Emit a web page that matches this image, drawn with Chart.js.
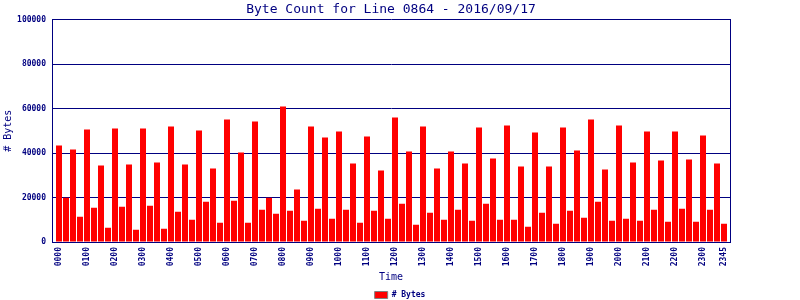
<!DOCTYPE html>
<html>
<head>
<meta charset="utf-8">
<script src="https://cdn.jsdelivr.net/npm/chart.js@4/dist/chart.umd.min.js"></script>
<style>
  html, body { margin: 0; padding: 0; background: #ffffff; }
  #wrap { width: 800px; height: 300px; }
</style>
</head>
<body>
<div id="wrap"><canvas id="c" width="800" height="300"></canvas></div>
<script>
// ---- data ----
const chartTitle = "Byte Count for Line 0864 - 2016/09/17";
const seriesName = "# Bytes";
const xTitle = "Time";
const yTitle = "# Bytes";

const times = [
  "0000","0015","0030","0045","0100","0115","0130","0145",
  "0200","0215","0230","0245","0300","0315","0330","0345",
  "0400","0415","0430","0445","0500","0515","0530","0545",
  "0600","0615","0630","0645","0700","0715","0730","0745",
  "0800","0815","0830","0845","0900","0915","0930","0945",
  "1000","1015","1030","1045","1100","1115","1130","1145",
  "1200","1215","1230","1245","1300","1315","1330","1345",
  "1400","1415","1430","1445","1500","1515","1530","1545",
  "1600","1615","1630","1645","1700","1715","1730","1745",
  "1800","1815","1830","1845","1900","1915","1930","1945",
  "2000","2015","2030","2045","2100","2115","2130","2145",
  "2200","2215","2230","2245","2300","2315","2330","2345"
];

const bytes = [
  43350,19950,41550,11400, 50550,15450,34350,6450,
  51000,15900,34800,5550, 51000,16350,35700,6000,
  51900,13650,34800,10050, 50100,18150,33000,8700,
  55050,18600,40200,8700, 54150,14550,19950,12750,
  60900,14100,23550,9600, 51900,15000,46950,10500,
  49650,14550,35250,8700, 47400,14100,32100,10500,
  55950,17250,40650,7800, 51900,13200,33000,10050,
  40650,14550,35250,9600, 51450,17250,37500,10050,
  52350,10050,33900,6900, 49200,13200,33900,8250,
  51450,14100,41100,10950, 55050,18150,32550,9600,
  52350,10500,35700,9600, 49650,14550,36600,9150,
  49650,15000,37050,9150, 47850,14550,35250,8250
];

// labelled ticks: every hour, plus the last slot
const tickLabels = ["0000","0100","0200","0300","0400","0500","0600","0700",
  "0800","0900","1000","1100","1200","1300","1400","1500","1600","1700",
  "1800","1900","2000","2100","2200","2300","2345"];

const yTicks = [0, 20000, 40000, 60000, 80000, 100000];

// ---- chart ----
const NAVY = "#000080";
const MONO = "'DejaVu Sans Mono', 'Liberation Mono', monospace";

const points = bytes.map((v, i) => ({ x: i, y: v }));
const tickIdx = tickLabels.map(t => times.indexOf(t));

new Chart(document.getElementById("c"), {
  type: "bar",
  data: {
    datasets: [{
      label: seriesName,
      data: points,
      backgroundColor: "#ff0000",
      borderWidth: 0,
      inflateAmount: 0,
      barThickness: 6
    }]
  },
  options: {
    responsive: false,
    animation: false,
    events: [],
    layout: { padding: { left: 0, right: 0, top: 0, bottom: -9 } },
    plugins: {
      title: {
        display: true,
        text: chartTitle,
        color: NAVY,
        fullSize: false,
        font: { family: MONO, size: 13, weight: "normal", lineHeight: 1.2 },
        padding: { top: 2, bottom: 2 }
      },
      legend: {
        display: true,
        position: "bottom",
        labels: {
          color: NAVY,
          font: { family: MONO, size: 8, weight: "bold" },
          boxWidth: 13,
          boxHeight: 7,
          padding: 4,
          generateLabels: (chart) => [{
            text: seriesName,
            fillStyle: "#ff0000",
            strokeStyle: "#808080",
            lineWidth: 1,
            fontColor: NAVY,
            hidden: false,
            datasetIndex: 0
          }]
        }
      },
      tooltip: { enabled: false }
    },
    scales: {
      x: {
        type: "linear",
        offset: false,
        min: -1,
        max: 95.857,
        afterBuildTicks: (s) => { s.ticks = tickIdx.map(v => ({ value: v })); },
        afterFit: (s) => { s.height = 45; },
        grid: { display: false, drawTicks: false },
        border: { display: true, color: NAVY, width: 1 },
        ticks: {
          autoSkip: false,
          maxRotation: 90,
          minRotation: 90,
          padding: 5,
          color: NAVY,
          font: { family: MONO, size: 8, weight: "bold" },
          callback: (v) => times[v]
        },
        title: {
          display: true,
          text: xTitle,
          color: NAVY,
          font: { family: MONO, size: 10 },
          padding: { top: 0, bottom: 4 }
        }
      },
      y: {
        min: 0,
        max: 100000,
        afterBuildTicks: (s) => { s.ticks = yTicks.map(v => ({ value: v })); },
        afterFit: (s) => { s.width = 52; },
        grid: { color: NAVY, lineWidth: 1, drawTicks: false },
        border: { display: true, color: NAVY, width: 1 },
        ticks: {
          padding: 6,
          color: NAVY,
          font: { family: MONO, size: 8, weight: "bold" },
          callback: (v) => String(v)
        },
        title: {
          display: true,
          text: yTitle,
          color: NAVY,
          font: { family: MONO, size: 10 },
          padding: { top: 2, bottom: 0 }
        }
      },
      y2: {
        position: "right",
        min: 0,
        max: 100000,
        afterFit: (s) => { s.width = 70; },
        grid: { display: false, drawTicks: false },
        border: { display: true, color: NAVY, width: 1 },
        ticks: { display: false }
      }
    }
  }
});
</script>
</body>
</html>
